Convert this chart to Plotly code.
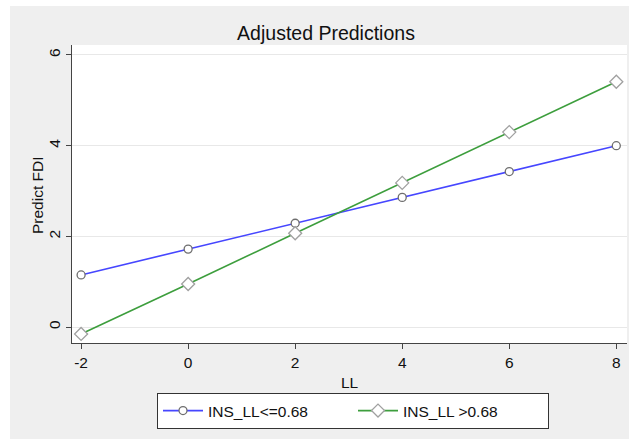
import plotly.graph_objects as go

ll = [-2, 0, 2, 4, 6, 8]
low_ins = [1.15, 1.72, 2.29, 2.86, 3.43, 4.00]
high_ins = [-0.15, 0.95, 2.07, 3.18, 4.30, 5.41]
names = ["INS_LL<=0.68", "INS_LL >0.68"]
x_ticks = [-2, 0, 2, 4, 6, 8]
y_ticks = [0, 2, 4, 6]

W, H = 629, 439
L, R, T, B = 72, 2, 45, 96
pw, ph = W - L - R, H - T - B

fig = go.Figure()
fig.add_trace(go.Scatter(
    x=ll, y=low_ins, mode="lines+markers", name=names[0],
    line=dict(color="#4646ff", width=1.6),
    marker=dict(symbol="circle", size=8, color="white",
                line=dict(color="#6e6e6e", width=1.3)),
))
fig.add_trace(go.Scatter(
    x=ll, y=high_ins, mode="lines+markers", name=names[1],
    line=dict(color="#3d9e3d", width=1.6),
    marker=dict(symbol="diamond", size=10, color="white",
                line=dict(color="#a0a0a0", width=1.3)),
))

font = "Liberation Sans, Arial, Helvetica, sans-serif"

# white strips outside the grey graph region
fig.add_shape(type="rect", xref="paper", yref="paper",
              x0=-L / pw, x1=(W - L) / pw, y0=(H - B - 6) / ph, y1=(H - B) / ph + 0.01,
              fillcolor="white", line_width=0, layer="above")
fig.add_shape(type="rect", xref="paper", yref="paper",
              x0=-L / pw - 0.01, x1=(10 - L) / pw, y0=-B / ph - 0.01, y1=(H - B) / ph + 0.01,
              fillcolor="white", line_width=0, layer="above")

fig.add_annotation(text="Predict FDI", xref="paper", yref="paper",
                   x=(37 - L) / pw, y=((H - B) - 195) / ph, textangle=-90,
                   showarrow=False, xanchor="center", yanchor="middle",
                   font=dict(size=15.5, family=font, color="#111"))

fig.update_layout(
    width=W, height=H,
    margin=dict(l=L, r=R, t=T, b=B),
    paper_bgcolor="#efefef",
    plot_bgcolor="white",
    font=dict(family=font, color="#111", size=14),
    title=dict(text="Adjusted Predictions", x=326 / W, xanchor="center",
               y=1 - 33 / H, yanchor="middle",
               font=dict(size=19.5, family=font, color="#111")),
    showlegend=True,
    legend=dict(orientation="h", x=(157 - L) / pw, xanchor="left",
                y=-(393 - (H - B)) / ph, yanchor="top",
                bgcolor="white", bordercolor="#333", borderwidth=1,
                font=dict(size=15.5, family=font, color="#111"),
                itemwidth=40, entrywidth=140, tracegroupgap=0),
)
fig.update_xaxes(
    range=[-2.17, 8.2], tickvals=x_ticks, ticktext=[str(v) for v in x_ticks],
    showgrid=False, zeroline=False, showline=True, linecolor="#444", linewidth=1,
    ticks="outside", ticklen=5, tickcolor="#444",
    tickfont=dict(size=15.5),
    title=dict(text="LL", font=dict(size=15.5), standoff=7),
)
fig.update_yaxes(
    range=[-0.35, 6.22], tickvals=y_ticks, ticktext=[str(v) for v in y_ticks],
    showgrid=True, gridcolor="#e8e8e8", gridwidth=1,
    zeroline=False, showline=True, linecolor="#444", linewidth=1,
    ticks="outside", ticklen=5, tickcolor="#444", tickangle=-90,
    tickfont=dict(size=15.5),
)

fig.write_html("out.html", config={"displayModeBar": False},
               post_script="document.body.style.margin='0';")
